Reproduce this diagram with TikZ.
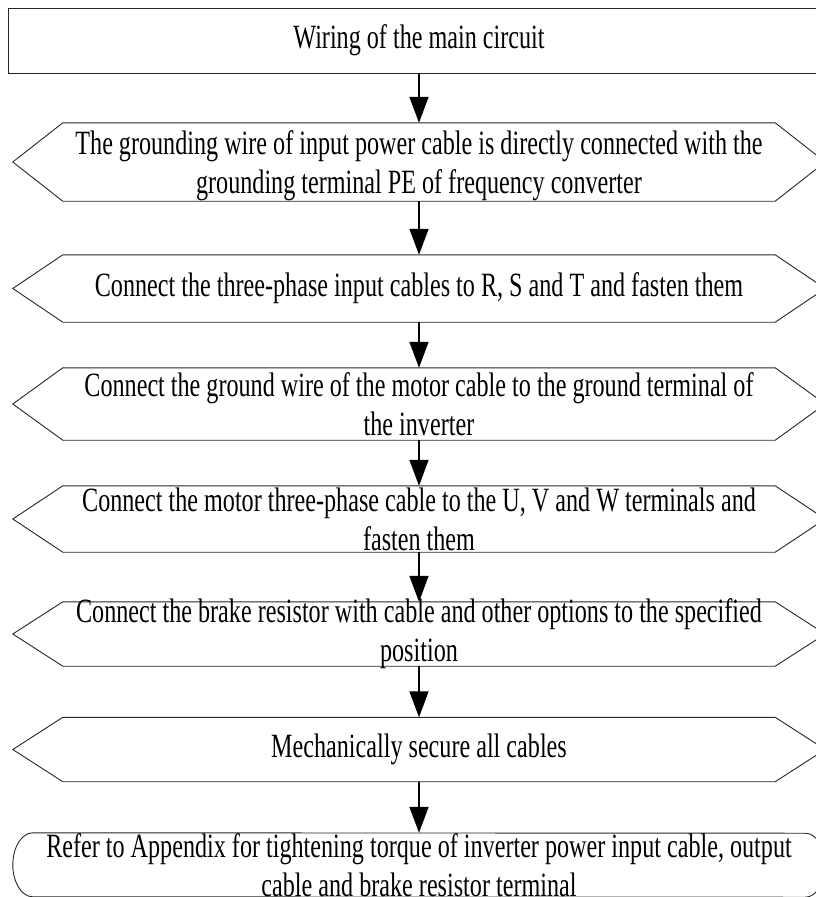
\documentclass[tikz,border=0pt]{standalone}
\usepackage{fontspec}
\setmainfont[FakeStretch=0.71]{Liberation Serif}
\usetikzlibrary{arrows.meta}
\begin{document}
\begin{tikzpicture}[x=1pt,y=-1pt,
  shapeline/.style={draw=black!85, line width=0.9pt},
  frame/.style={rectangle, inner sep=0pt, minimum width=712pt},
  txt/.style={align=center, inner sep=0pt, font=\fontsize{34}{39}\selectfont},
  flow/.style={line width=1.6pt, -{Triangle[width=19pt,length=26pt]}}]
\useasboundingbox (0,0) rectangle (816,897);
\clip (0,0) rectangle (816,897);
% top box
\node[frame, shapeline, minimum width=822pt, minimum height=65pt, txt] (b0) at (419,40.5) {Wiring of the main circuit};
% hexagon frames
\node[frame, minimum height=78pt] (h1) at (419,162) {};
\node[frame, minimum height=67pt] (h2) at (419,288.5) {};
\node[frame, minimum height=72pt] (h3) at (419,404) {};
\node[frame, minimum height=66pt] (h4) at (419,519) {};
\node[frame, minimum height=64pt] (h5) at (419,634) {};
\node[frame, minimum height=64pt] (h6) at (419,749.5) {};
\node[frame, minimum width=772pt, minimum height=64pt] (f) at (419,865) {};
\foreach \n in {h1,h2,h3,h4,h5,h6}
  \draw[shapeline] (\n.north west) -- ([xshift=-50pt]\n.west) -- (\n.south west)
    -- (\n.south east) -- ([xshift=50pt]\n.east) -- (\n.north east) -- cycle;
\draw[shapeline] (f.north west) arc[start angle=90, end angle=270, x radius=20pt, y radius=32pt]
  -- (f.south east) arc[start angle=-90, end angle=90, x radius=20pt, y radius=32pt] -- cycle;
% texts
\node[txt, yshift=-4pt] (t1) at (h1) {The grounding wire of input power cable is directly connected with the\\grounding terminal PE of frequency converter};
\node[txt] (t2) at (h2) {Connect the three-phase input cables to R, S and T and fasten them};
\node[txt] (t3) at (h3) {Connect the ground wire of the motor cable to the ground terminal of\\the inverter};
\node[txt] (t4) at (h4) {Connect the motor three-phase cable to the U, V and W terminals and\\fasten them};
\node[txt] (t5) at (h5) {Connect the brake resistor with cable and other options to the specified\\position};
\node[txt] (t6) at (h6) {Mechanically secure all cables};
\node[txt] (t7) at (f) {Refer to Appendix for tightening torque of inverter power input cable, output\\cable and brake resistor terminal};
% connectors
\draw[flow] (b0) -- (h1);
\draw[flow] (h1) -- (h2);
\draw[flow] (h2) -- (h3);
\draw[flow] (h3) -- (h4);
\draw[flow] (h4) -- (h5);
\draw[flow] (h5) -- (h6);
\draw[flow] (h6) -- (f);
\end{tikzpicture}
\end{document}
